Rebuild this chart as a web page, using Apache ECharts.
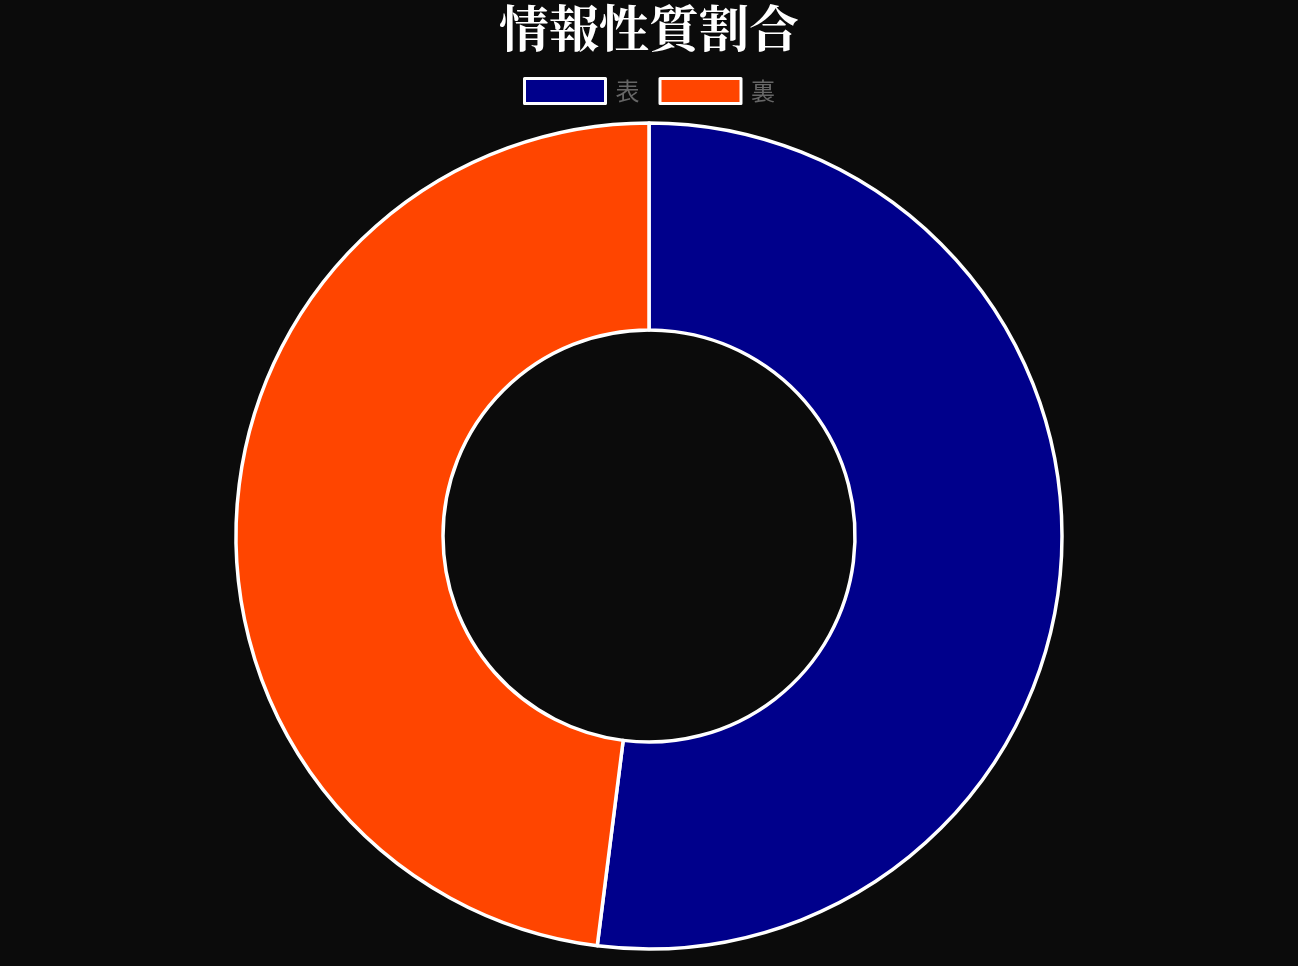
<!DOCTYPE html>
<html>
<head>
<meta charset="utf-8">
<script src="https://cdn.jsdelivr.net/npm/echarts@6/dist/echarts.min.js"></script>
<style>
html,body{margin:0;padding:0;background:#0b0b0b;}
#c{width:1298px;height:966px;}
</style>
</head>
<body>
<div id="c"></div>
<script>
const titleText = '情報性質割合';
const categories = ['表', '裏'];
const values = [52, 48];
const colors = ['#00008B', '#FF4500'];

const chart = echarts.init(document.getElementById('c'));
chart.setOption({
  backgroundColor: '#0b0b0b',
  animation: false,
  title: {
    text: titleText,
    left: 'center',
    top: -2,
    textStyle: {
      color: '#ffffff',
      fontSize: 50,
      fontWeight: 'bold',
      fontFamily: '"Noto Serif CJK JP", "Noto Sans CJK JP", serif'
    }
  },
  legend: {
    top: 72,
    left: 'center',
    itemWidth: 81,
    itemHeight: 25,
    itemGap: 19,
    icon: 'rect',
    data: categories,
    itemStyle: { borderColor: '#ffffff', borderWidth: 3 },
    textStyle: { color: '#666666', fontSize: 24, padding: [0, 0, 0, 5], fontFamily: '"Noto Sans CJK JP", sans-serif' }
  },
  series: [{
    type: 'pie',
    center: [649, 536],
    radius: [206, 413],
    startAngle: 90,
    clockwise: true,
    label: { show: false },
    labelLine: { show: false },
    itemStyle: { borderColor: '#ffffff', borderWidth: 3.5 },
    data: categories.map((c, i) => ({ name: c, value: values[i], itemStyle: { color: colors[i] } }))
  }]
});
</script>
</body>
</html>
